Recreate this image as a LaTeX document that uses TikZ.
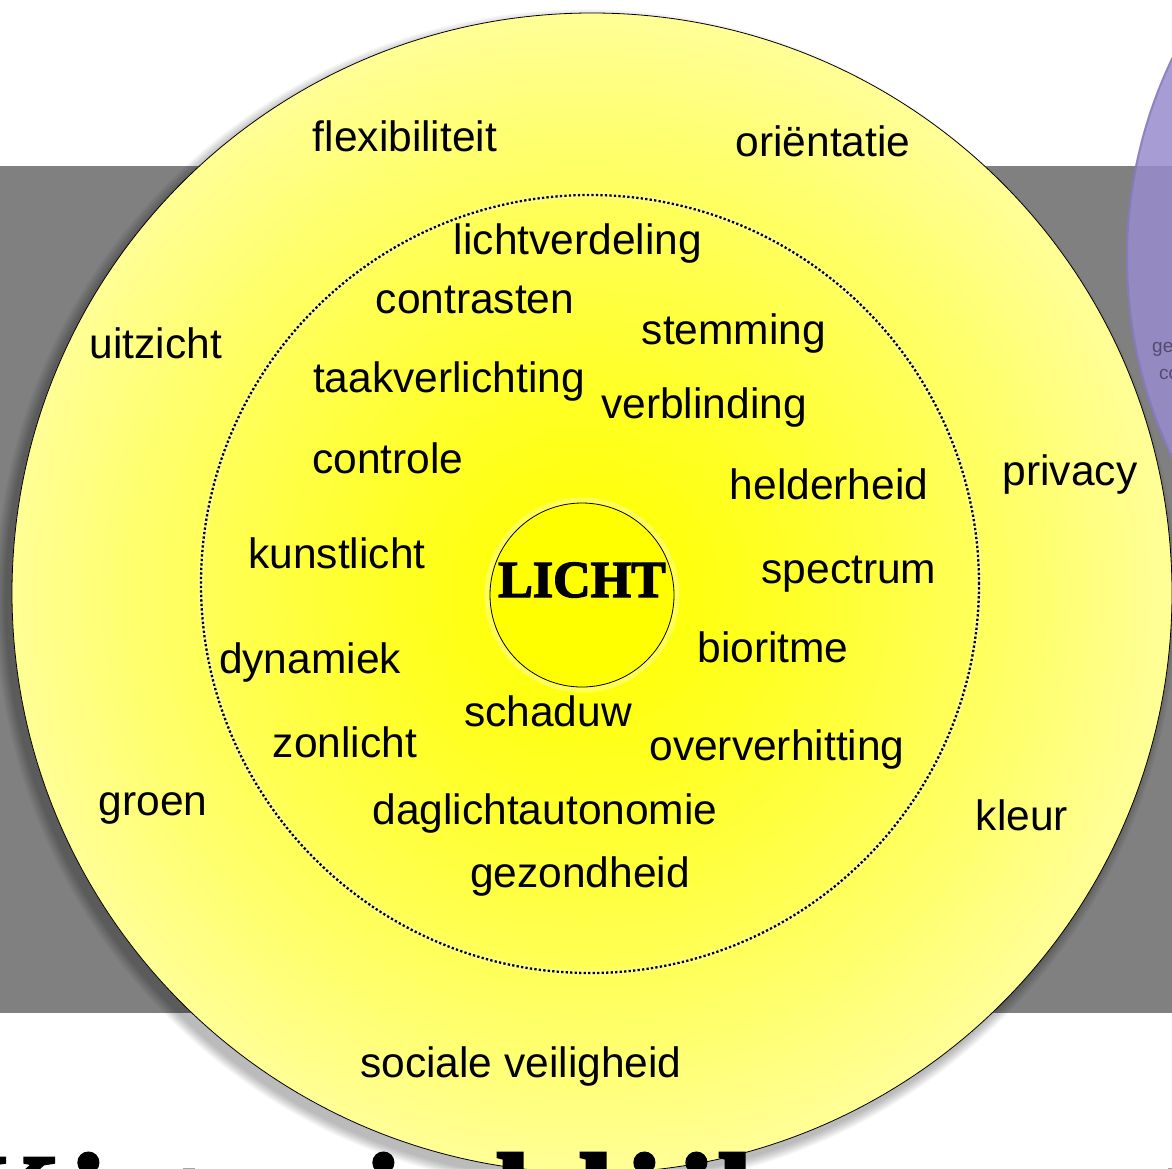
\documentclass[tikz,border=0pt]{standalone}
\usepackage{fontspec}
\setmainfont{Liberation Sans}
\newfontfamily\lichtfont{Liberation Serif Bold}[FakeBold=2.5]
\newfontfamily\titlefont{Liberation Serif Bold}[FakeBold=2]
\definecolor{sunc0}{RGB}{255,255,0}
\definecolor{sunc4}{RGB}{255,255,150}
\definecolor{bandgray}{RGB}{128,128,128}
\definecolor{purplec}{RGB}{152,140,205}
\definecolor{purpleedge}{RGB}{120,108,180}
\definecolor{purpletext}{RGB}{85,75,110}
\tikzset{
  lab/.style={anchor=base, inner sep=0pt, font=\fontsize{42.5}{50}\selectfont},
  bigletter/.style={anchor=base, inner sep=0pt, font=\titlefont\fontsize{130}{130}\selectfont},
  tinytext/.style={anchor=base west, inner sep=0pt, text=purpletext, font=\fontsize{19}{21}\selectfont}
}
\begin{document}
\begin{tikzpicture}[x=1pt,y=-1pt]
\useasboundingbox (0,0) rectangle (1172,1168);
\clip (0,0) rectangle (1172,1168);
\fill[white] (0,0) rectangle (1172,1168);
% gray band
\fill[bandgray] (0,166) rectangle (1172,1013);
% purple circle (partly visible)
\fill[purplec, opacity=0.85] (1588,258) circle (462);
\draw[purpleedge, line width=2, opacity=0.5] (1588,258) circle (461);
\node[tinytext] (ge) at (1152,352) {ge};
\node[tinytext] (co) at (1159,379) {co};
% soft shadow of big circle
\foreach \k in {1,...,12}{
  \fill[black, opacity=0.025] (586,600) circle ({580+\k*0.9});
}
% big circle: radial glow built from concentric discs
\begin{scope}
\clip (592,593) circle (580);
\fill[sunc4] (592,593) circle (581);
\foreach \r in {575,565,...,5}{
  \pgfmathsetmacro\p{100*(\r/580)^1.3}
  \fill[sunc4!\p!sunc0] (586,594) circle (\r);
}
\end{scope}
\node[circle, minimum size=1160, inner sep=0pt, draw=black, line width=0.8] (outer) at (592,593) {};
% glow ring along the inner circle
\draw[white, opacity=0.25, line width=6] (590,584) circle (389);
% inner dotted circle
\node[circle, minimum size=778, inner sep=0pt, draw=black, line width=2.3, dash pattern=on 2.3 off 2.2] (inner) at (590,584) {};
% core circle
\draw[white, opacity=0.3, line width=5] (582,595) circle (95);
\node[circle, minimum size=184, inner sep=0pt, draw=black, line width=0.8, fill=sunc0] (core) at (582,595) {};
\node[anchor=base, inner sep=0pt, font=\lichtfont\fontsize{52}{52}\selectfont] (licht) at (582,597) {LICHT};
% labels
\node[lab] (l1) at (405,151) {flexibiliteit};
\node[lab] (l2) at (823,156) {oriëntatie};
\node[lab] (l3) at (578,254) {lichtverdeling};
\node[lab] (l4) at (475,313) {contrasten};
\node[lab] (l5) at (734,344) {stemming};
\node[lab] (l6) at (156,358) {uitzicht};
\node[lab] (l7) at (449,392) {taakverlichting};
\node[lab] (l8) at (704,418) {verblinding};
\node[lab] (l9) at (388,473) {controle};
\node[lab] (l10) at (829,499) {helderheid};
\node[lab] (l11) at (1070,485) {privacy};
\node[lab] (l12) at (337,568) {kunstlicht};
\node[lab] (l13) at (849,583) {spectrum};
\node[lab] (l14) at (773,662) {bioritme};
\node[lab] (l15) at (310,673) {dynamiek};
\node[lab] (l16) at (548,726) {schaduw};
\node[lab] (l17) at (345,757) {zonlicht};
\node[lab] (l18) at (777,760) {oververhitting};
\node[lab] (l19) at (153,815) {groen};
\node[lab] (l20) at (545,824) {daglichtautonomie};
\node[lab] (l21) at (1022,830) {kleur};
\node[lab] (l22) at (580,887) {gezondheid};
\node[lab] (l23) at (521,1077) {sociale veiligheid};
% huge cut-off title letters at the bottom
\node[bigletter, anchor=base east] (b1) at (62,1243) {K};
\node[bigletter] (b2) at (88,1243) {i};
\node[bigletter] (b3) at (187,1243) {t};
\node[bigletter] (b4) at (383,1243) {i};
\node[bigletter] (b5) at (513,1243) {l};
\node[bigletter] (b6) at (596,1243) {l};
\node[bigletter] (b7) at (644,1243) {i};
\node[bigletter] (b8) at (696,1243) {i};
\node[bigletter] (b9) at (735,1243) {l};
\node[bigletter] (b10) at (1172,1243) {t};
\end{tikzpicture}
\end{document}
